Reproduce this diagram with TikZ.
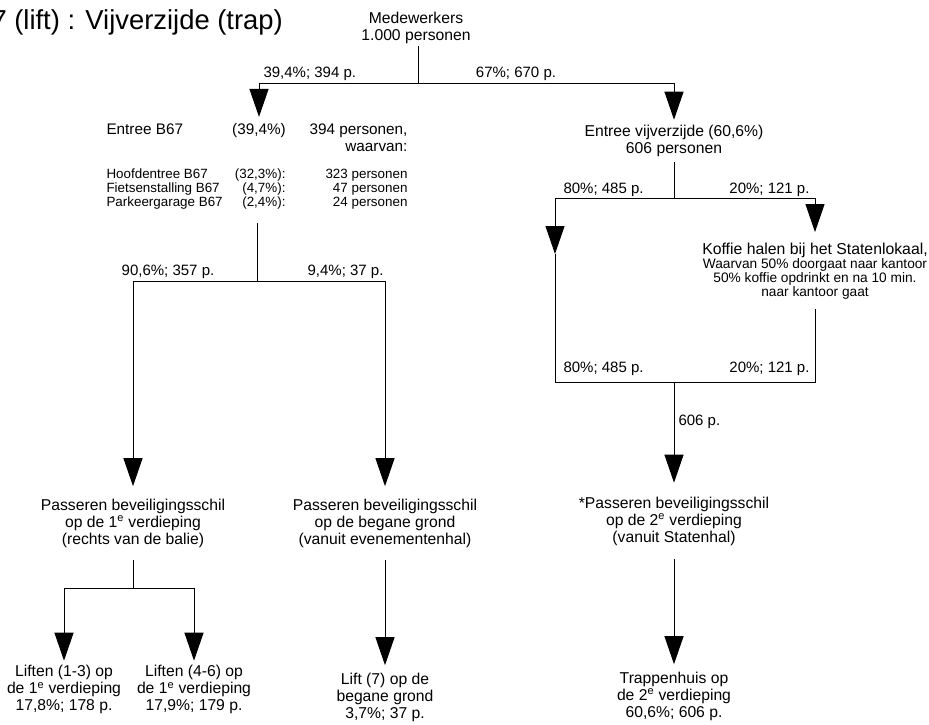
\documentclass[tikz,border=0pt]{standalone}
\usepackage{fontspec}
\setmainfont{Liberation Sans}
\usetikzlibrary{arrows.meta,positioning}
\newcommand{\tabfont}{\fontsize{13.4}{14}\selectfont}
\newcommand{\notefont}{\fontsize{13.7}{14}\selectfont}

\begin{document}
\begin{tikzpicture}[x=1pt,y=-1pt,line width=1pt,
  txt/.style={inner sep=5pt,align=center,font=\fontsize{15.7}{17}\selectfont},
  lbl/.style={inner sep=0pt,font=\fontsize{15}{17}\selectfont},
  head/.style={inner sep=0pt,font=\fontsize{15.3}{17}\selectfont},
  tab/.style={inner sep=0pt,font=\tabfont},
  flow/.style={-{Triangle[width=19pt,length=28pt]}}]
\useasboundingbox (0,0) rectangle (929,724);

% Title (cut off at the left)
\node[inner sep=0pt,anchor=base west,font=\fontsize{27.4}{30}\selectfont] (title) at (-9,29) {7 (lift) : Vijverzijde (trap)};

% Top
\node[txt,inner sep=2pt] (med) at (416,27.5) {Medewerkers\\1.000 personen};
\coordinate (mj) at (418,83);

% Entree B67
\node[head,anchor=base west] (b67) at (106,134) {Entree B67};
\node[head,inner sep=5.5pt,anchor=base] (b67pct) at (259,134) {(39,4\%)};
\node[head,anchor=base east] (b67n) at (408,134) {394 personen,};
\node[head,anchor=base east] (b67w) at (408,151) {waarvan:};
\node[tab,anchor=base west] (hoofd) at (106,178) {Hoofdentree B67};
\node[tab,anchor=base east] (hoofdpct) at (286,178) {(32,3\%):};
\node[tab,anchor=base east] (hoofdn) at (408,178) {323 personen};
\node[tab,anchor=base west] (fiets) at (106,192) {Fietsenstalling B67};
\node[tab,anchor=base east] (fietspct) at (286,192) {(4,7\%):};
\node[tab,anchor=base east] (fietsn) at (408,192) {47 personen};
\node[tab,anchor=base west] (park) at (106,206) {Parkeergarage B67};
\node[tab,anchor=base east] (parkpct) at (286,206) {(2,4\%):};
\node[tab,anchor=base east] (parkn) at (408,206) {24 personen};
\coordinate (bt) at (257,223);
\coordinate (bj) at (257,281);

% Entree vijverzijde
\node[txt] (vijver) at (674,141) {Entree vijverzijde (60,6\%)\\606 personen};
\coordinate (vj) at (674,198);
\node[txt,inner sep=10pt,font=\fontsize{15.8}{14}\selectfont] (kof) at (815,270.7) {Koffie halen bij het Statenlokaal,\\
  {\notefont Waarvan 50\% doorgaat naar kantoor}\\
  {\notefont 50\% koffie opdrinkt en na 10 min.}\\
  {\notefont naar kantoor gaat}};
\coordinate (lt) at (555,254);
\coordinate (lb) at (555,382);
\coordinate (vb) at (674,382);

% Beveiligingsschil
\node[txt,inner sep=12pt] (pas1) at (133,523) {Passeren beveiligingsschil\\op de 1\textsuperscript{e} verdieping\\(rechts van de balie)};
\node[txt,inner sep=12pt] (pas0) at (385,523) {Passeren beveiligingsschil\\op de begane grond\\(vanuit evenementenhal)};
\node[txt,inner sep=13.5pt] (star) at (674,521) {*Passeren beveiligingsschil\\op de 2\textsuperscript{e} verdieping\\(vanuit Statenhal)};
\coordinate (pj) at (133,588);

% Liften en trap
\node[txt,inner sep=4pt] (lift13) at (64,689.5) {Liften (1-3) op\\de 1\textsuperscript{e} verdieping\\17,8\%; 178 p.};
\node[txt,inner sep=4pt] (lift46) at (194,689.5) {Liften (4-6) op\\de 1\textsuperscript{e} verdieping\\17,9\%; 179 p.};
\node[txt,inner sep=7pt] (lift7) at (385,697) {Lift (7) op de\\begane grond\\3,7\%; 37 p.};
\node[txt,inner sep=7pt] (trap) at (674,696) {Trappenhuis op\\de 2\textsuperscript{e} verdieping\\60,6\%; 606 p.};

% Connectors
\draw (med.south -| mj) -- (mj);
\draw[flow] (mj) -| (b67pct.north);
\draw[flow] (mj) -| (vijver.north);
\draw (bt) -- (bj);
\draw[flow] (bj) -| (pas1.north);
\draw[flow] (bj) -| (pas0.north);
\draw (vijver.south) -- (vj);
\draw[flow] (vj) -| (lt);
\draw (lt) -- (lb);
\draw[flow] (vj) -| (kof.north);
\draw (kof.south) |- (vb);
\draw (lb) -- (vb);
\draw[flow] (vb) -- (star.north);
\draw (pas1.south) -- (pj);
\draw[flow] (pj) -| (lift13.north);
\draw[flow] (pj) -| (lift46.north);
\draw[flow] (pas0) -- (lift7);
\draw[flow] (star) -- (trap);

% Labels
\node[lbl,anchor=base west] at (263,77) {39,4\%; 394 p.};
\node[lbl,anchor=base] at (516,77) {67\%; 670 p.};
\node[lbl,anchor=base] at (168,275) {90,6\%; 357 p.};
\node[lbl,anchor=base east] at (384,275) {9,4\%; 37 p.};
\node[lbl,anchor=base west] at (563,193) {80\%; 485 p.};
\node[lbl,anchor=base east] at (810,193) {20\%; 121 p.};
\node[lbl,anchor=base west] at (563,372) {80\%; 485 p.};
\node[lbl,anchor=base east] at (810,372) {20\%; 121 p.};
\node[lbl,anchor=base west] at (678,425) {606 p.};
\end{tikzpicture}
\end{document}
